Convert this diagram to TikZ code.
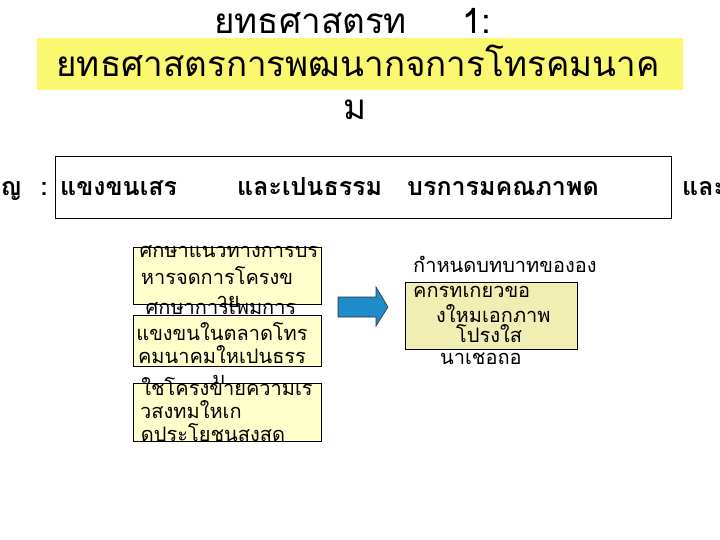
\documentclass[tikz,border=0pt]{standalone}
\usepackage{fontspec}
\newfontfamily\thai[Script=Thai]{Loma}
\definecolor{bandyellow}{RGB}{250,248,110}
\definecolor{paleyellow}{RGB}{255,255,204}
\definecolor{khaki}{RGB}{240,238,178}
\definecolor{arrowblue}{RGB}{30,140,200}
\tikzset{
  ttl/.style={anchor=base, inner sep=0pt, font=\thai\fontsize{35}{40}\selectfont},
  rowtxt/.style={anchor=base, inner sep=0pt, font=\thai\bfseries\fontsize{25}{30}\selectfont},
  boxtxt/.style={anchor=base, inner sep=0pt, font=\thai\fontsize{20}{24}\selectfont},
  leftbox/.style={draw=black, line width=0.8pt, fill=paleyellow},
  rightbox/.style={draw=black, line width=0.8pt, fill=khaki}
}
\begin{document}
\begin{tikzpicture}[x=1pt,y=-1pt]
\clip (0,0) rectangle (720,540);
\fill[white] (0,0) rectangle (720,540);
% title
\node[ttl, anchor=base west] (t1) at (214,34) {ยทธศาสตรท};
\node[ttl] (t2) at (477,34) {1:};
\fill[bandyellow] (37,38) rectangle (683,90);
\node[ttl] (t3) at (358,77) {ยทธศาสตรการพฒนากจการโทรคมนาค};
\node[ttl] (t4) at (355,120) {ม};
% row
\draw[black, line width=0.8pt] (55,156) rectangle (671,218);
\node[rowtxt] (r0) at (11,196) {ญ};
\node[rowtxt] (r1) at (44,196) {:};
\node[rowtxt, anchor=base west] (r2) at (60,196) {แขงขนเสร};
\node[rowtxt, anchor=base west] (r3) at (237,196) {และเปนธรรม};
\node[rowtxt, anchor=base west] (r4) at (407,196) {บรการมคณภาพด};
\node[rowtxt, anchor=base west] (r5) at (682,196) {และ};
% left boxes
\draw[leftbox] (133,247) rectangle (321,304);
\node[boxtxt] (a1) at (229,258) {ศกษาแนวทางการบร};
\node[boxtxt] (a2) at (217,284) {หารจดการโครงข};
\node[boxtxt] (a3) at (228,307) {าย};
\draw[leftbox] (133,315) rectangle (321,366);
\node[boxtxt] (b1) at (221,314) {ศกษาการเพมการ};
\node[boxtxt] (b2) at (222,340) {แขงขนในตลาดโทร};
\node[boxtxt] (b3) at (222,363) {คมนาคมใหเปนธรร};
\node[boxtxt] (b4) at (219,386) {ม};
\draw[leftbox] (133,383) rectangle (321,441);
\node[boxtxt] (c1) at (227,395) {ใชโครงขายความเร};
\node[boxtxt, anchor=base west] (c2) at (140,418) {วสงทมใหเก};
\node[boxtxt] (c3) at (213,441) {ดประโยชนสงสด};
% arrow
\filldraw[fill=arrowblue, draw=black!80, line width=0.6pt]
  (338,297) -- (376,297) -- (376,287) -- (388,307) -- (376,326) -- (376,317) -- (338,317) -- cycle;
% right box
\draw[rightbox] (405,282) rectangle (577,349);
\node[boxtxt, anchor=base west] (d1) at (413,272) {กำหนดบทบาทขององ};
\node[boxtxt, anchor=base west] (d2) at (413,297) {คกรทเกยวขอ};
\node[boxtxt, anchor=base west] (d3) at (436,322) {งใหมเอกภาพ};
\node[boxtxt, anchor=base west] (d4) at (456,342) {โปรงใส};
\node[boxtxt, anchor=base west] (d5) at (440,364) {นาเชอถอ};
\end{tikzpicture}
\end{document}
